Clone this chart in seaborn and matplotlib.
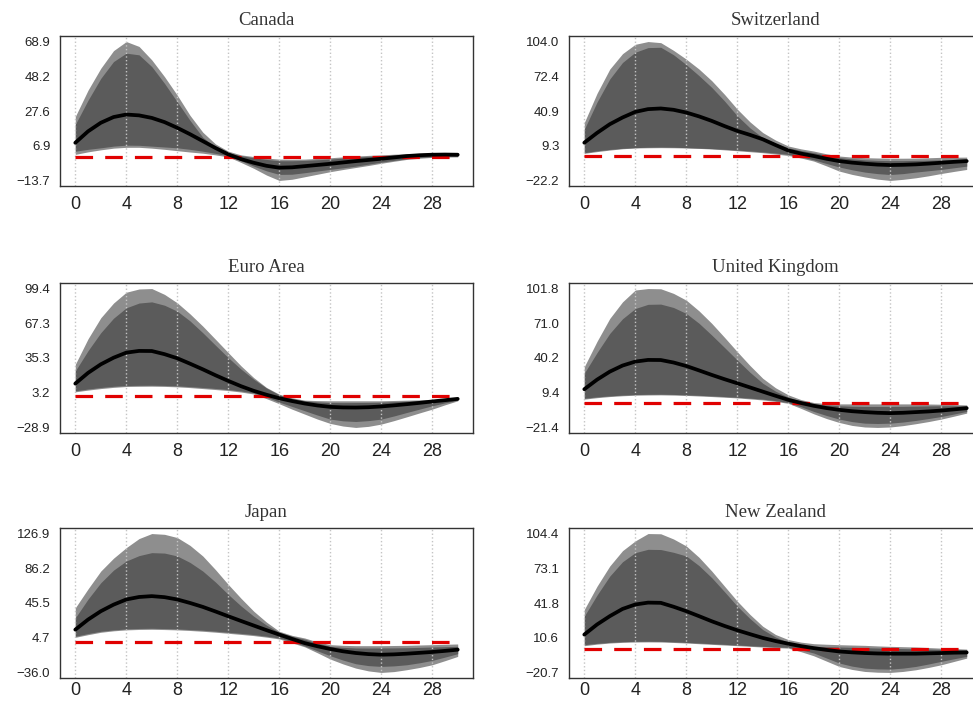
import numpy as np
import pandas as pd
import matplotlib
matplotlib.use("Agg")
import matplotlib.pyplot as plt
import seaborn as sns

# horizons 0..30
horizons = list(range(0, 31))

# Canada
CA_outer_hi = [24.3, 40, 53, 63.5, 68.9, 66, 58, 48, 37, 25, 15, 8, 3.7, 1.5, 0.5, -0.4,
               -1.0, -1.1, -1.0, -0.6, -0.2, 0.3, 0.8, 1.2, 1.5, 1.9, 2.2, 2.4, 2.6, 2.7, 2.7]
CA_inner_hi = [19.6, 34, 47, 57, 62, 61, 54, 44, 33, 22, 12, 6, 2.8, 1.0, -0.2, -1.2,
               -2.0, -2.0, -1.8, -1.4, -1.0, -0.4, 0.2, 0.6, 1.0, 1.4, 1.8, 2.0, 2.2, 2.3, 2.3]
CA_median = [8.7, 15.5, 20.6, 24, 25.5, 25, 23.5, 21, 17.6, 13.8, 9.7, 5.6, 1.8, -1.0, -3.2, -5.0,
             -6.1, -5.9, -5.2, -4.5, -3.8, -3.0, -2.2, -1.5, -0.8, 0.0, 0.8, 1.3, 1.6, 1.7, 1.6]
CA_inner_lo = [3.7, 4.8, 5.7, 6.7, 7.3, 7.2, 6.7, 6.2, 5.7, 4.8, 3.7, 2.4, 1.0, -2.0, -5.2, -8.0,
               -10.1, -10.0, -9.1, -8.1, -7.1, -6.2, -5.2, -4.0, -2.8, -1.8, -0.8, -0.1, 0.4, 0.6, 0.6]
CA_outer_lo = [1.8, 3.3, 4.5, 5.5, 6.0, 6.0, 5.5, 4.8, 4.0, 3.2, 2.5, 1.5, 0.3, -3.0, -6.5, -10.5,
               -13.7, -13.0, -11.5, -10.0, -8.5, -7.2, -6.0, -4.8, -3.5, -2.3, -1.2, -0.5, 0.0, 0.2, 0.3]
CA_yticks = [-13.7, 6.9, 27.6, 48.2, 68.9]

# Switzerland
CH_outer_hi = [30.4, 57, 79, 93, 101.5, 104.0, 103, 96, 88, 79, 68.4, 56, 42.6, 31, 21.3, 14.5,
               9.1, 6.5, 4.5, 2.0, 0.0, -1.0, -1.5, -1.8, -2.0, -2.0, -1.9, -1.6, -1.2, -1.1, -1.0]
CH_inner_hi = [24.3, 49, 70, 85, 94.3, 98.5, 98.8, 92, 83, 73, 62.3, 50, 36.5, 25.5, 16.7, 11.5,
               7.5, 5.0, 3.0, 0.8, -1.5, -2.6, -3.5, -4.0, -4.2, -4.2, -4.0, -3.8, -3.5, -3.2, -3.0]
CH_median = [12.1, 21, 28.9, 35, 40.1, 42.6, 43.2, 42, 39.5, 36, 31.9, 27.2, 22.8, 19.2, 15.2, 10.0,
             5.0, 2.2, 0.0, -2.5, -4.6, -6.0, -7.0, -7.8, -8.2, -8.0, -7.6, -6.9, -6.1, -5.3, -4.6]
CH_inner_lo = [3.0, 4.7, 6.0, 7.0, 7.6, 8.0, 8.2, 8.0, 7.6, 7.2, 6.7, 6.1, 5.4, 4.6, 3.7, 2.7,
               1.5, -0.8, -3.5, -6.8, -10.0, -12.5, -14.6, -16.0, -16.8, -16.0, -14.6, -13.4, -12.2, -10.7, -9.2]
CH_outer_lo = [2.4, 4.0, 5.4, 6.6, 7.3, 7.5, 7.6, 7.5, 7.3, 6.9, 6.4, 5.6, 4.8, 3.9, 3.0, 1.8,
               0.5, -1.8, -4.6, -9.0, -13.7, -16.7, -19.0, -21.0, -22.2, -21.2, -19.8, -18.0, -15.9, -14.0, -12.2]
CH_yticks = [-22.2, 9.3, 40.9, 72.4, 104.0]

# Euro Area
EA_outer_hi = [29.4, 53, 72.4, 86, 96.0, 99.0, 99.4, 94, 86.2, 76, 64.7, 52.5, 40.2, 28, 17.1, 8.0,
               1.8, -1.5, -3.7, -4.1, -4.3, -4.3, -4.3, -4.3, -4.3, -4.0, -3.7, -3.4, -3.1, -2.8, -2.5]
EA_inner_hi = [23.3, 42, 58.6, 72, 81.6, 86, 87.1, 84, 78.5, 69.5, 58.6, 47, 35.6, 25, 15.6, 7.5,
               1.2, -2.2, -4.3, -5.3, -5.9, -6.0, -5.9, -5.8, -5.6, -5.1, -4.6, -4.2, -3.7, -3.2, -2.8]
EA_median = [11.6, 21.5, 29.4, 35.5, 40.2, 41.8, 41.7, 38.8, 35.0, 30.0, 24.8, 19.3, 14.1, 9.2, 4.9, 1.3,
             -1.9, -4.5, -6.8, -8.6, -9.9, -10.4, -10.5, -10.2, -9.5, -8.5, -7.4, -6.2, -4.9, -3.7, -2.5]
EA_inner_lo = [4.9, 6.6, 8.0, 9.1, 9.8, 10.0, 10.1, 9.9, 9.5, 8.8, 8.0, 7.1, 6.1, 4.8, 3.0, -0.8,
               -5.5, -9.5, -13.5, -17.5, -21.2, -22.8, -23.4, -22.6, -21.2, -18.3, -15.1, -12.0, -8.9, -6.2, -3.7]
EA_outer_lo = [4.0, 5.6, 7.0, 8.1, 8.9, 9.1, 9.2, 9.0, 8.6, 7.9, 7.0, 6.1, 5.2, 3.8, 2.0, -2.3,
               -7.0, -12.0, -16.6, -21.2, -25.2, -27.6, -28.9, -27.9, -25.8, -22.6, -19.1, -15.5, -12.0, -8.0, -4.3]
EA_yticks = [-28.9, 3.2, 35.3, 67.3, 99.4]

# United Kingdom
UK_outer_hi = [32.5, 55, 75.3, 90, 100.5, 101.8, 101.6, 97.5, 91.5, 82, 70.9, 58.5, 45.8, 33.5, 22.2, 13.8,
               7.5, 3.3, 0.7, -0.2, -0.5, -0.5, -0.5, -0.5, -0.5, -0.5, -0.5, -0.6, -0.8, -1.1, -1.4]
UK_inner_hi = [26.7, 45, 62.0, 75, 84.1, 87.8, 88.0, 85, 79.7, 71, 60.5, 49.5, 38.4, 27.5, 17.8, 10.8,
               5.4, 1.8, -0.5, -1.5, -2.2, -2.6, -2.8, -2.8, -2.8, -2.7, -2.5, -2.3, -2.2, -2.2, -2.2]
UK_median = [12.5, 21, 28.1, 33.5, 37.0, 38.5, 38.4, 36.2, 33.1, 29.2, 25.2, 21.4, 17.8, 14.1, 10.4, 6.7,
             3.1, 0.3, -2.2, -4.2, -5.8, -7.0, -7.8, -8.4, -8.7, -8.4, -7.8, -7.2, -6.4, -5.4, -4.3]
UK_inner_lo = [4.5, 5.7, 6.6, 7.3, 7.8, 8.0, 8.1, 7.9, 7.5, 7.1, 6.6, 6.0, 5.4, 4.6, 3.7, 2.4,
               0.7, -3.0, -7.2, -10.8, -14.0, -16.2, -17.6, -17.9, -17.6, -16.6, -15.2, -13.5, -11.7, -9.5, -7.2]
UK_outer_lo = [3.7, 5.0, 6.0, 6.7, 7.2, 7.4, 7.5, 7.3, 7.0, 6.5, 6.0, 5.4, 4.8, 3.9, 3.0, 1.7,
               0.0, -4.5, -9.3, -13.5, -17.0, -19.6, -21.0, -21.4, -21.0, -19.8, -18.1, -16.2, -14.0, -11.4, -8.7]
UK_yticks = [-21.4, 9.4, 40.2, 71.0, 101.8]

# Japan
JP_outer_hi = [39.8, 62, 82.9, 98, 110.4, 121, 126.9, 126, 122.2, 113, 100.6, 84.5, 67.2, 51, 35.8, 23,
               12.3, 7.5, 4.4, -0.2, -3.4, -4.2, -4.6, -4.6, -4.6, -4.4, -4.2, -3.8, -3.4, -3.0, -2.6]
JP_inner_hi = [28.0, 50, 69.2, 84, 94.7, 101, 104.5, 104, 100.6, 93, 82.9, 70, 55.5, 42, 29.9, 19.5,
               11.1, 6.5, 3.0, -1.6, -5.4, -6.6, -7.3, -7.4, -7.3, -7.2, -7.0, -6.6, -6.2, -5.8, -5.4]
JP_median = [14.2, 26, 35.8, 43.5, 49.6, 52.5, 53.5, 52.3, 49.6, 45.5, 40.9, 35.5, 29.9, 24.4, 19.0, 13.6,
             8.4, 3.3, -1.6, -5.3, -8.5, -11.2, -13.2, -14.5, -15.2, -14.8, -14.0, -13.0, -12.0, -10.7, -9.3]
JP_inner_lo = [6.4, 9.6, 12.3, 13.9, 15.0, 15.6, 15.8, 15.5, 15.0, 14.3, 13.5, 12.4, 11.1, 9.8, 8.4, 6.5,
               4.4, 0.0, -5.0, -10.7, -16.4, -21.5, -25.8, -28.0, -28.9, -28.3, -27.0, -24.7, -21.9, -18.0, -14.0]
JP_outer_lo = [5.2, 8.3, 11.1, 12.8, 13.9, 14.4, 14.6, 14.3, 13.9, 13.2, 12.3, 11.2, 9.9, 8.6, 7.2, 5.4,
               3.3, -1.3, -6.0, -13.0, -20.3, -26.0, -30.9, -34.2, -36.0, -35.0, -32.8, -30.2, -27.0, -22.2, -17.2]
JP_yticks = [-36.0, 4.7, 45.5, 86.2, 126.9]

# New Zealand
NZ_outer_hi = [36.0, 57, 75.2, 89, 97.8, 104.4, 104.2, 99.5, 93.2, 83, 70.6, 57, 43.5, 31.5, 20.9, 13.5,
               8.9, 6.6, 5.2, 4.7, 4.3, 4.0, 3.7, 3.2, 2.8, 2.5, 2.2, 1.7, 1.2, 0.8, 0.3]
NZ_inner_hi = [30.0, 49, 66.1, 79, 87.2, 90.2, 90.0, 87.5, 84.2, 75.5, 64.6, 52, 39.0, 27.8, 17.9, 11.2,
               6.4, 4.2, 2.8, 2.5, 2.2, 1.9, 1.6, 1.3, 1.0, 0.8, 0.6, 0.3, 0.0, -0.2, -0.3]
NZ_median = [13.4, 22.5, 30.0, 36.5, 40.5, 42.2, 42.0, 38.5, 34.5, 30.0, 25.4, 21.2, 17.3, 13.8, 10.4, 7.6,
             5.2, 3.0, 1.2, -0.4, -1.8, -2.6, -3.2, -3.6, -3.8, -3.8, -3.8, -3.5, -3.2, -2.9, -2.7]
NZ_inner_lo = [4.3, 5.5, 6.4, 7.0, 7.3, 7.4, 7.3, 6.9, 6.4, 5.8, 5.2, 4.6, 4.0, 3.4, 2.8, 2.3,
               1.9, -0.4, -3.2, -7.7, -12.2, -15.0, -16.8, -17.5, -17.7, -16.8, -15.3, -13.1, -10.7, -8.4, -6.2]
NZ_outer_lo = [3.4, 4.8, 5.8, 6.4, 6.7, 6.8, 6.7, 6.3, 5.8, 5.2, 4.6, 4.0, 3.4, 2.8, 2.2, 1.7,
               1.2, -2.0, -5.7, -10.5, -15.3, -18.0, -19.8, -20.5, -20.7, -19.8, -18.3, -16.2, -13.8, -10.8, -7.8]
NZ_yticks = [-20.7, 10.6, 41.8, 73.1, 104.4]

xticks = [0, 4, 8, 12, 16, 20, 24, 28]

panels = [
    ("Canada", CA_outer_lo, CA_inner_lo, CA_median, CA_inner_hi, CA_outer_hi, CA_yticks),
    ("Switzerland", CH_outer_lo, CH_inner_lo, CH_median, CH_inner_hi, CH_outer_hi, CH_yticks),
    ("Euro Area", EA_outer_lo, EA_inner_lo, EA_median, EA_inner_hi, EA_outer_hi, EA_yticks),
    ("United Kingdom", UK_outer_lo, UK_inner_lo, UK_median, UK_inner_hi, UK_outer_hi, UK_yticks),
    ("Japan", JP_outer_lo, JP_inner_lo, JP_median, JP_inner_hi, JP_outer_hi, JP_yticks),
    ("New Zealand", NZ_outer_lo, NZ_inner_lo, NZ_median, NZ_inner_hi, NZ_outer_hi, NZ_yticks),
]

sns.set_style("white")
plt.rcParams['font.family'] = ['Liberation Sans', 'DejaVu Sans']

W, H = 973, 705
fig = plt.figure(figsize=(W / 100, H / 100), dpi=100)

col_left = [60, 569]
row_top = [36, 283, 528]
xlab_pad = [7, 7, 3]
ax_w, ax_h = 413, 150

for i, (name, olo, ilo, med, ihi, ohi, yt) in enumerate(panels):
    r, c = divmod(i, 2)
    ax = fig.add_axes([col_left[c] / W, 1 - (row_top[r] + ax_h) / H, ax_w / W, ax_h / H])

    df = pd.DataFrame({"h": horizons, "olo": olo, "ilo": ilo, "med": med,
                       "ihi": ihi, "ohi": ohi})
    df["zero"] = 0.0

    ax.fill_between(df["h"], df["olo"], df["ohi"], color="#8e8e8e", lw=0, zorder=1)
    ax.fill_between(df["h"], df["ilo"], df["ihi"], color="#5b5b5b", lw=0, zorder=1.1)
    sns.lineplot(data=df, x="h", y="zero", ax=ax, color="#e00000", lw=2.3,
                 linestyle=(0, (5.5, 3.8)), zorder=3)
    sns.lineplot(data=df, x="h", y="med", ax=ax, color="black", lw=2.7,
                 solid_capstyle="round", zorder=4)

    rng = yt[-1] - yt[0]
    ax.set_ylim(yt[0] - 0.04 * rng, yt[-1] + 0.04 * rng)
    ax.set_xlim(-1.2, 31.2)
    ax.set_xticks(xticks)
    ax.set_xticklabels([str(t) for t in xticks], fontsize=13, color="#222222")
    ax.set_yticks(yt)
    ax.set_yticklabels([f"{v:.1f}".replace("-", "\u2212") for v in yt],
                       fontsize=9.5, color="#222222")
    ax.tick_params(axis="x", length=0, pad=xlab_pad[r])
    ax.tick_params(axis="y", length=5, width=1, color="#333333", pad=2, direction="out")
    ax.set_xlabel("")
    ax.set_ylabel("")

    ax.set_axisbelow("line")
    ax.grid(axis="x", linestyle=":", color="#c4c4c4", lw=1)
    ax.grid(axis="y", visible=False)
    for sp in ax.spines.values():
        sp.set_color("#333333")
        sp.set_linewidth(1.0)

    ax.set_title(name, fontsize=13.5, family=["Liberation Serif", "DejaVu Serif"],
                 color="#333333", pad=8)

fig.savefig("out.png", dpi=100)
